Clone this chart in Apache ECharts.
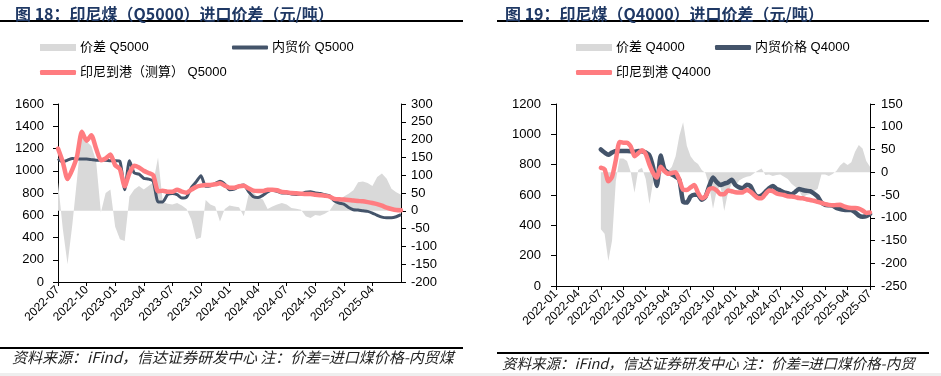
<!DOCTYPE html>
<html>
<head>
<meta charset="utf-8">
<script src="https://cdn.jsdelivr.net/npm/echarts@6/dist/echarts.min.js"></script>
<style>
  html, body { margin: 0; padding: 0; background: #fff; }
  #chart { width: 941px; height: 376px; }
</style>
</head>
<body>
<div id="chart"></div>
<script>
/* ── Colour constants ── */
const GRAY  = '#d9d9d9';   // 价差
const NAVY  = '#44546a';   // 内贸价
const PINK  = '#ff7c80';   // 印尼到港
const TITLE = '#1f3864';
const FONT  = '"Liberation Sans", "Noto Sans CJK SC", sans-serif';

/* ── Months on each x axis (half-month steps are built from these) ── */
const MONTHS_Q5000 = [
  '2022-07','2022-08','2022-09','2022-10','2022-11','2022-12',
  '2023-01','2023-02','2023-03','2023-04','2023-05','2023-06',
  '2023-07','2023-08','2023-09','2023-10','2023-11','2023-12',
  '2024-01','2024-02','2024-03','2024-04','2024-05','2024-06',
  '2024-07','2024-08','2024-09','2024-10','2024-11','2024-12',
  '2025-01','2025-02','2025-03','2025-04','2025-05','2025-06','2025-07'
];
const MONTHS_Q4000 = [
  '2022-01','2022-02','2022-03','2022-04','2022-05','2022-06'
].concat(MONTHS_Q5000);

/* ── Tick labels ── */
const TICKS_Q5000 = ['2022-07','2022-10','2023-01','2023-04','2023-07','2023-10',
  '2024-01','2024-04','2024-07','2024-10','2025-01','2025-04'];
const TICKS_Q4000 = ['2022-01','2022-04','2022-07','2022-10','2023-01','2023-04','2023-07',
  '2023-10','2024-01','2024-04','2024-07','2024-10','2025-01','2025-04','2025-07'];

/* ── Q5000 series, half-month from 2022-07-01 (元/吨) ── */
const SPREAD_Q5000 = [
  80, -50, -150, -40, 90, 230, 195, 182, 140, -5,
  50, 60, -45, -80, -85, 40, 60, 70, 60, 70,
  80, 150, 25, 20, 18, 22, 15, 5, -25, -80,
  -75, 30, 18, 12, -30, 5, 15, 12, 10, -15,
  45, 52, 38, 32, 5, 12, 18, 22, 18, 8,
  6, 3, -15, -20, -12, -14, -8, 0, 20, 25,
  40, 48, 58, 80, 82, 78, 70, 95, 105, 90,
  62, 52, 45
];
const DOMESTIC_Q5000 = [
  1110, 1080, 1095, 1110, 1105, 1105, 1105, 1100, 1095, 1095,
  1095, 1090, 1090, 1085, 830, 1090, 980, 970, 932, 925,
  905, 720, 720, 785, 795, 785, 755, 765, 850, 900,
  955, 860, 865, 885, 905, 880, 830, 835, 860, 872,
  812, 767, 760, 779, 810, 825, 815, 800, 800, 790,
  787, 790, 808, 812, 800, 795, 785, 775, 730, 710,
  700, 670, 650, 647, 640, 635, 620, 600, 583, 578,
  578, 587, 605
];
const IMPORT_Q5000 = [
  1200, 1080, 925, 1010, 1130, 1350, 1270, 1320, 1200, 1095,
  1110, 1145, 1050, 1015, 860, 980, 1045, 1030, 1000, 980,
  960, 815, 820, 812, 812, 830, 812, 803, 830, 855,
  866, 872, 872, 878, 887, 866, 848, 848, 860, 865,
  842, 821, 818, 818, 830, 830, 825, 810, 806, 800,
  797, 794, 791, 791, 785, 780, 775, 768, 748, 743,
  742, 738, 732, 728, 725, 718, 710, 700, 686, 668,
  656, 647, 645
];

/* ── Q4000 series, half-month from 2022-07-01 (元/吨) ── */
const SPREAD_Q4000 = [
  -125, -135, -195, -150, -20, 30, 30, 25, 0, -45,
  5, 10, -15, -70, -20, 0, -5, 2, 3, 12,
  35, 80, 110, 58, 35, 24, 18, 5, -2, -30,
  -80, -40, -30, -85, -45, -25, -30, -18, -13, -10,
  -8, -2, 4, 8, -6, -5, -8, -6, -5, -10,
  -15, -25, -32, -40, -55, -50, -48, -42, -36, -5,
  -5, -8, -4, 3, 15, 22, 16, 22, 45, 60,
  52, 25, 12
];
const DOMESTIC_Q4000 = [
  900, 880, 865, 880, 890, 890, 890, 890, 888, 885,
  890, 888, 880, 860, 780, 660, 860, 768, 748, 735,
  721, 700, 556, 550, 590, 602, 600, 568, 589, 660,
  715, 685, 666, 675, 683, 700, 666, 650, 645, 668,
  660, 612, 590, 598, 620, 645, 660, 640, 630, 618,
  612, 605, 620, 640, 633, 628, 625, 610, 590, 550,
  535, 532, 530, 515, 508, 503, 501, 500, 486, 465,
  457, 460, 475
];
const IMPORT_Q4000 = [
  780, 770, 690, 720, 830, 950, 945, 945, 920, 855,
  875, 895, 870, 800, 745, 715, 787, 758, 740, 745,
  750, 700, 635, 633, 650, 666, 615, 578, 590, 640,
  645, 630, 605, 605, 630, 625, 618, 616, 618, 633,
  622, 600, 580, 578, 605, 630, 625, 610, 604, 600,
  592, 590, 586, 580, 578, 572, 567, 562, 555, 548,
  540, 535, 532, 534, 535, 525, 518, 515, 514, 510,
  498, 482, 485
];

/* half-month category names: 'YYYY-MM-01', 'YYYY-MM-16', ... last month only '-01' */
function halfMonths(months) {
  const out = [];
  months.forEach((m, i) => {
    out.push(m + '-01');
    if (i < months.length - 1) out.push(m + '-16');
  });
  return out;
}
const CATS_Q5000 = halfMonths(MONTHS_Q5000);
const CATS_Q4000 = halfMonths(MONTHS_Q4000);
const pair = (cats, vals) => vals.map((v, i) => [cats[i], v]);

/* ══════════════════════════════════════════════════════════════
 *  Axis helpers
 * ══════════════════════════════════════════════════════════════ */
function xAxisFor(gridIndex, cats, ticks) {
  const isTick = (i, v) => v.endsWith('-01') && ticks.includes(v.slice(0, 7));
  return {
    type: 'category', gridIndex, data: cats, boundaryGap: false,
    axisLine: { lineStyle: { color: '#000', width: 1 } },
    axisTick: { interval: isTick, length: 4, lineStyle: { color: '#000' } },
    axisLabel: {
      interval: isTick, rotate: 45, margin: 6,
      fontSize: 12, color: '#000', fontFamily: FONT,
      formatter: v => v.slice(0, 7)
    },
    splitLine: { show: false }
  };
}
function yAxisFor(gridIndex, pos, min, max, margin) {
  return {
    type: 'value', gridIndex, position: pos, min, max, interval: 50 * (max - min > 1000 ? 4 : 1),
    axisLine: { show: true, lineStyle: { color: '#000', width: 1 } },
    axisTick: { show: true, length: 5, lineStyle: { color: '#000' } },
    axisLabel: { fontSize: 13, color: '#000', fontFamily: FONT, margin, formatter: v => String(v) },
    splitLine: { show: false }
  };
}
function legendAt(name, left, top, icon, h) {
  return {
    data: [name], left, top, padding: 0, icon,
    itemWidth: 36, itemHeight: h, itemGap: 4,
    textStyle: { fontSize: 13, color: '#000', fontFamily: FONT, padding: [0, 0, 0, -1] }
  };
}

/* ══════════════════════════════════════════════════════════════
 *  Chart
 * ══════════════════════════════════════════════════════════════ */
const chart = echarts.init(document.getElementById('chart'), null, { renderer: 'canvas' });

const N5 = { spread: '价差 Q5000', dom: '内贸价 Q5000', imp: '印尼到港（测算） Q5000' };
const N4 = { spread: '价差 Q4000', dom: '内贸价格 Q4000', imp: '印尼到港 Q4000' };
const TITLE_STYLE = { fontSize: 16, fontWeight: 'bold', color: TITLE, fontFamily: '"Noto Sans CJK SC", sans-serif' };

chart.setOption({
  animation: false,
  textStyle: { fontFamily: FONT },
  title: [
    { text: '图 18：印尼煤（Q5000）进口价差（元/吨）', left: 10, top: 1, textStyle: TITLE_STYLE },
    { text: '图 19：印尼煤（Q4000）进口价差（元/吨）', left: 500, top: 1, textStyle: TITLE_STYLE }
  ],
  legend: [
    legendAt(N5.spread, 40, 41, 'rect', 7),
    legendAt(N5.dom, 232, 41, 'roundRect', 4),
    legendAt(N5.imp, 40, 66, 'roundRect', 5),
    legendAt(N4.spread, 576, 41, 'rect', 7),
    legendAt(N4.dom, 715, 41, 'roundRect', 5),
    legendAt(N4.imp, 576, 66, 'roundRect', 5)
  ],
  grid: [
    { left: 58, top: 104, width: 343, height: 178 },
    { left: 556, top: 104, width: 314, height: 182 }
  ],
  xAxis: [
    xAxisFor(0, CATS_Q5000, TICKS_Q5000),
    xAxisFor(1, CATS_Q4000, TICKS_Q4000)
  ],
  yAxis: [
    yAxisFor(0, 'left', 0, 1600, 14),
    yAxisFor(0, 'right', -200, 300, 10),
    yAxisFor(1, 'left', 0, 1200, 15),
    yAxisFor(1, 'right', -250, 150, 11)
  ],
  series: [
    { name: N5.spread, type: 'line', xAxisIndex: 0, yAxisIndex: 1, color: GRAY,
      symbol: 'none', lineStyle: { width: 0 }, areaStyle: { color: GRAY, opacity: 1 },
      data: pair(CATS_Q5000, SPREAD_Q5000) },
    { name: N5.dom, type: 'line', xAxisIndex: 0, yAxisIndex: 0, color: NAVY,
      symbol: 'none', smooth: 0.2, lineStyle: { width: 3, color: NAVY },
      data: pair(CATS_Q5000, DOMESTIC_Q5000) },
    { name: N5.imp, type: 'line', xAxisIndex: 0, yAxisIndex: 0, color: PINK,
      symbol: 'none', smooth: 0.2, lineStyle: { width: 4.5, color: PINK, cap: 'round', join: 'round' },
      data: pair(CATS_Q5000, IMPORT_Q5000) },

    { name: N4.spread, type: 'line', xAxisIndex: 1, yAxisIndex: 3, color: GRAY,
      symbol: 'none', lineStyle: { width: 0 }, areaStyle: { color: GRAY, opacity: 1 },
      data: pair(CATS_Q4000.slice(12), SPREAD_Q4000) },
    { name: N4.dom, type: 'line', xAxisIndex: 1, yAxisIndex: 2, color: NAVY,
      symbol: 'none', smooth: 0.2, lineStyle: { width: 4.5, color: NAVY, cap: 'round', join: 'round' },
      data: pair(CATS_Q4000.slice(12), DOMESTIC_Q4000) },
    { name: N4.imp, type: 'line', xAxisIndex: 1, yAxisIndex: 2, color: PINK,
      symbol: 'none', smooth: 0.2, lineStyle: { width: 4.5, color: PINK, cap: 'round', join: 'round' },
      data: pair(CATS_Q4000.slice(12), IMPORT_Q4000) }
  ],
  graphic: [
    // rules under the titles and above the notes
    { type: 'line', shape: { x1: 0, y1: 21, x2: 463, y2: 21 }, style: { stroke: '#000', lineWidth: 2 } },
    { type: 'line', shape: { x1: 497, y1: 21, x2: 929, y2: 21 }, style: { stroke: '#000', lineWidth: 2 } },
    { type: 'line', shape: { x1: 0, y1: 348, x2: 463, y2: 348 }, style: { stroke: '#000', lineWidth: 2 } },
    { type: 'line', shape: { x1: 497, y1: 353, x2: 929, y2: 353 }, style: { stroke: '#000', lineWidth: 2 } },
    { type: 'text', x: 12, y: 350,
      style: { text: '资料来源：iFind，信达证券研发中心 注：价差=进口煤价格-内贸煤',
               font: 'italic 15px "Noto Sans CJK SC", sans-serif', fill: '#222' } },
    { type: 'text', x: 502, y: 356,
      style: { text: '资料来源：iFind，信达证券研发中心 注：价差=进口煤价格-内贸',
               font: 'italic 14.5px "Noto Sans CJK SC", sans-serif', fill: '#222' } },
    { type: 'rect', shape: { x: 0, y: 373, width: 941, height: 3 }, style: { fill: '#eeeeee' } }
  ]
});
</script>
</body>
</html>
